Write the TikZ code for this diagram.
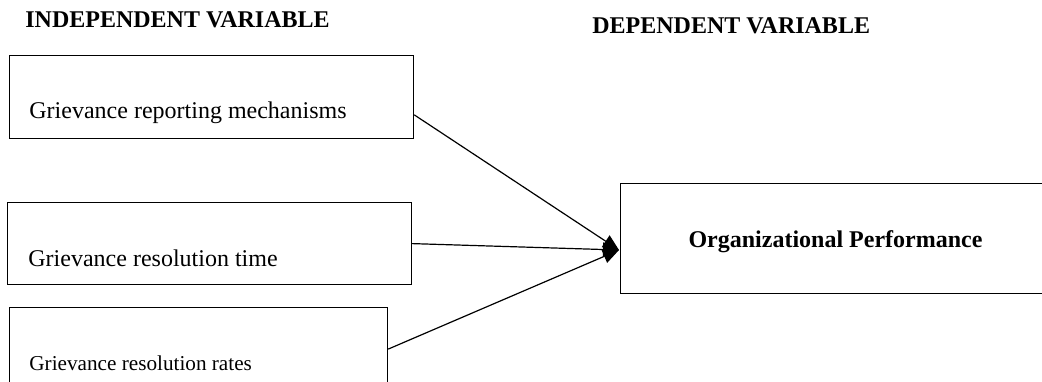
\documentclass[tikz,border=0pt]{standalone}
\usepackage{fontspec}
\setmainfont{Liberation Serif}
\usetikzlibrary{arrows.meta}
\tikzset{
    varbox/.style={draw, line width=0.6pt, rectangle, anchor=north west, inner sep=0pt},
    headtxt/.style={anchor=base west, inner sep=0pt, font=\fontsize{12}{14}\selectfont\bfseries},
    itemtxt/.style={anchor=base west, inner sep=0pt, font=\fontsize{12}{14}\selectfont},
    link/.style={line width=0.6pt, -{Triangle[length=8pt,width=7pt]}}
}
\begin{document}
\begin{tikzpicture}[x=0.5pt,y=-0.5pt]
    \useasboundingbox (0,0) rectangle (1042,381);
    \clip (0,0) rectangle (1042,381);
    \node [headtxt] (indep) at (25,27) {INDEPENDENT VARIABLE};
    \node [headtxt] (dep) at (592,33) {DEPENDENT VARIABLE};
    \node [varbox, minimum width=202pt, minimum height=41.5pt] (rep) at (9,55) {};
    \node [itemtxt] (reptxt) at (29,118) {Grievance reporting mechanisms};
    \node [varbox, minimum width=202pt, minimum height=41pt] (time) at (7,202) {};
    \node [itemtxt] (timetxt) at (28,266) {Grievance resolution time};
    \node [varbox, minimum width=189pt, minimum height=41.5pt] (rate) at (9,307) {};
    \node [itemtxt, font=\fontsize{10.6}{13}\selectfont] (ratetxt) at (29,370) {Grievance resolution rates};
    \node [varbox, minimum width=230pt, minimum height=55pt] (perf) at (620,183) {};
    \node [headtxt, anchor=base] (perftxt) at (835.5,247) {Organizational Performance};
    \coordinate (meet) at (619,250);
    \draw [link] (rep.-5) -- (meet);
    \draw [link] (time.east) -- (meet);
    \draw [link] (rate.east) -- (meet);
\end{tikzpicture}
\end{document}
